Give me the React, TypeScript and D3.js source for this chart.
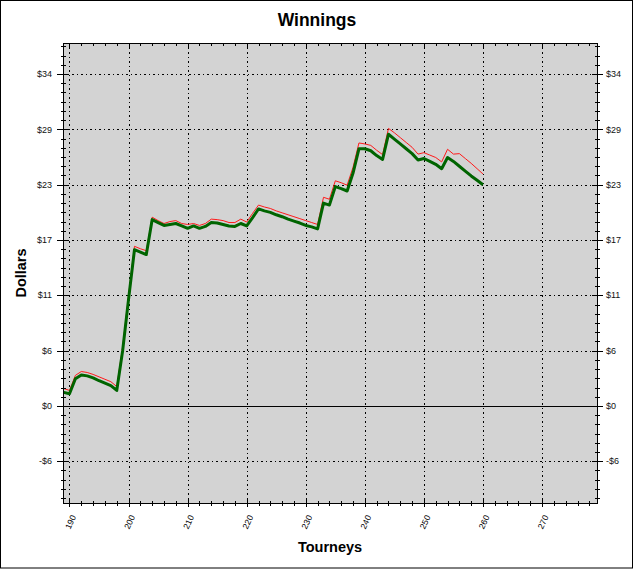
import React from 'react';
import * as d3 from 'd3';

// tourney numbers on the x axis (one point per tourney)
const tourneys = d3.range(189, 261);

// net winnings (thick green line)
const netWinnings = [
  1.4, 1.25, 2.8, 3.2, 3.1, 2.9, 2.6, 2.35, 2.1, 1.6,
  5.7, 11.0, 16.1, 15.85, 15.6, 19.2, 18.9, 18.6, 18.7, 18.8,
  18.55, 18.3, 18.55, 18.3, 18.5, 18.9, 18.85, 18.7, 18.55, 18.5,
  18.8, 18.55, 19.4, 20.3, 20.1, 19.95, 19.7, 19.5, 19.25, 19.05,
  18.85, 18.6, 18.45, 18.25, 20.9, 20.7, 22.6, 22.4, 22.15, 24.0,
  26.5, 26.5, 26.3, 25.8, 25.4, 28.0, 27.5, 27.0, 26.5, 26.0,
  25.35, 25.5, 25.2, 24.9, 24.45, 25.6, 25.2, 24.7, 24.2, 23.7,
  23.25, 22.8
];

// gross winnings (thin red line)
const grossWinnings = [
  1.8, 1.6, 3.15, 3.55, 3.45, 3.25, 3.0, 2.75, 2.5, 2.0,
  6.1, 11.4, 16.45, 16.2, 16.0, 19.45, 19.1, 18.8, 19.0, 19.1,
  18.8, 18.7, 18.8, 18.6, 18.8, 19.25, 19.2, 19.1, 18.9, 18.9,
  19.25, 18.95, 19.85, 20.7, 20.5, 20.35, 20.1, 19.9, 19.7, 19.5,
  19.3, 19.1, 18.9, 18.7, 21.5, 21.3, 23.2, 23.0, 22.75, 24.6,
  27.1, 27.0, 26.85, 26.35, 25.9, 28.6, 28.15, 27.65, 27.15, 26.65,
  25.95, 26.1, 25.85, 25.6, 25.15, 26.45, 25.95, 26.0, 25.5, 25.0,
  24.45, 23.9
];

// axis ticks
const xMajorTicks = [190, 200, 210, 220, 230, 240, 250, 260, 270];
const xMinorTicks = d3.range(190, 280, 2);
const yMajorTicks = [-5.7, 0, 5.7, 11.4, 17.1, 22.8, 28.5, 34.2];
const yTickLabels = ['-$6', '$0', '$6', '$11', '$17', '$23', '$29', '$34'];
const yMinorTicks = d3.range(-10, 40).map(k => k * 0.95);

const W = 634, H = 569;
const left = 63, right = 597, top = 43, bottom = 503;
const font = 'Arial, "Liberation Sans", sans-serif';

export default function App() {
  const x = d3.scaleLinear().domain([188.9, 279.3]).range([left, right]);
  const y = d3.scaleLinear().domain([-10, 37.4]).range([bottom, top]);

  const line = d3.line<number>()
    .x((d, i) => x(tourneys[i]))
    .y(d => y(d));

  // snap a pixel position so 1px lines stay sharp
  const px = (v: number) => Math.round(v) + 0.5;

  const yMinor = yMinorTicks.filter(v => y(v) <= bottom && y(v) >= top);

  return (
    <div>
      <style>{'body{margin:0}'}</style>
      <svg width={W} height={H} style={{display: 'block', background: '#fff'}} fontFamily={font}>
        <rect x={0.5} y={0.5} width={632} height={567.5} fill="#fff" stroke="#000" />

        {/* plot area */}
        <rect x={left} y={top} width={right - left} height={bottom - top} fill="#d3d3d3" />

        {/* grid */}
        <g shapeRendering="crispEdges">
          {xMajorTicks.map(t => (
            <line key={'gx' + t} x1={px(x(t))} x2={px(x(t))} y1={top} y2={bottom}
              stroke="#000" strokeDasharray="1.5,3" />
          ))}
          {yMajorTicks.map(v => v !== 0 && (
            <line key={'gy' + v} x1={left} x2={right} y1={px(y(v))} y2={px(y(v))}
              stroke="#000" strokeDasharray="1.5,3" />
          ))}
          <line x1={left} x2={right} y1={px(y(0))} y2={px(y(0))} stroke="#000" />
        </g>

        {/* series */}
        <path d={line(grossWinnings) || ''} fill="none" stroke="#ff1a1a" strokeWidth={1} />
        <path d={line(netWinnings) || ''} fill="none" stroke="#006400" strokeWidth={3} strokeLinejoin="round" />

        <g shapeRendering="crispEdges" stroke="#000">
          <rect x={left + 0.5} y={top + 0.5} width={right - left} height={bottom - top} fill="none" />

          {/* x ticks, bottom crosses the axis, top inside only */}
          {xMinorTicks.map(t => (
            <g key={'xm' + t}>
              <line x1={px(x(t))} x2={px(x(t))} y1={bottom - 2.5} y2={bottom + 2.5} />
              <line x1={px(x(t))} x2={px(x(t))} y1={top} y2={top + 3} />
            </g>
          ))}
          {xMajorTicks.map(t => (
            <g key={'xt' + t}>
              <line x1={px(x(t))} x2={px(x(t))} y1={bottom - 4} y2={bottom + 4} />
              <line x1={px(x(t))} x2={px(x(t))} y1={top} y2={top + 5} />
            </g>
          ))}

          {/* y ticks, left and right */}
          {yMinor.map(v => (
            <g key={'ym' + v}>
              <line x1={left - 2.5} x2={left + 3} y1={px(y(v))} y2={px(y(v))} />
              <line x1={right - 2.5} x2={right + 3} y1={px(y(v))} y2={px(y(v))} />
            </g>
          ))}
          {yMajorTicks.map(v => (
            <g key={'yt' + v}>
              <line x1={left - 6} x2={left + 5} y1={px(y(v))} y2={px(y(v))} />
              <line x1={right - 5} x2={right + 6} y1={px(y(v))} y2={px(y(v))} />
            </g>
          ))}
        </g>

        {xMajorTicks.map(t => (
          <text key={'xl' + t} transform={`translate(${x(t) + 1},${bottom + 19}) rotate(-65)`}
            textAnchor="middle" dy="0.35em" fontSize={8.5} fill="#000">{t}</text>
        ))}
        {yMajorTicks.map((v, i) => (
          <g key={'yl' + v}>
            <text x={left - 11} y={y(v)} dy="0.35em" textAnchor="end" fontSize={9} fill="#111">{yTickLabels[i]}</text>
            <text x={right + 9} y={y(v)} dy="0.35em" textAnchor="start" fontSize={9} fill="#111">{yTickLabels[i]}</text>
          </g>
        ))}

        {/* titles */}
        <text x={317} y={26} textAnchor="middle" fontSize={17.5} fontWeight="bold">Winnings</text>
        <text x={(left + right) / 2} y={552} textAnchor="middle" fontSize={14.5} fontWeight="bold">Tourneys</text>
        <text transform={`translate(26,${(top + bottom) / 2}) rotate(-90)`} textAnchor="middle"
          fontSize={14.5} fontWeight="bold">Dollars</text>
      </svg>
    </div>
  );
}
